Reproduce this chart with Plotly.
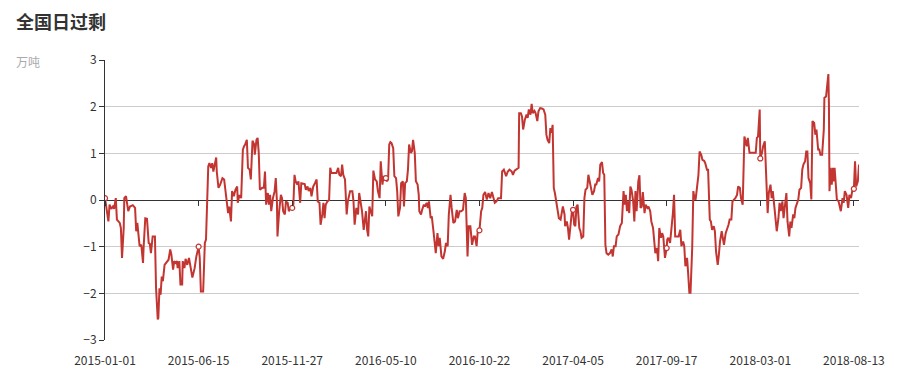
import pandas as pd
import plotly.graph_objects as go

start_date = "2015-01-01"
end_date = "2018-08-22"

# day offsets from 2015-01-01 (daily series, sampled at visible turning points)
days = [
    0, 6, 8, 11, 14, 16, 19, 21, 26, 28, 30, 33, 34, 37, 41, 44, 49, 53, 55, 57,
    59, 61, 64, 67, 68, 71, 74, 77, 79, 81, 84, 88, 90, 93, 94, 96, 98, 100, 102, 105,
    108, 110, 112, 115, 117, 120, 122, 125, 127, 128, 131, 133, 136, 137, 140, 142, 145, 148, 151, 154,
    158, 161, 165, 167, 169, 173, 176, 178, 182, 184, 187, 189, 191, 193, 196, 197, 200, 203, 207, 210,
    213, 215, 217, 219, 222, 224, 227, 230, 233, 234, 237, 240, 243, 245, 247, 250, 252, 255, 257, 260,
    263, 264, 267, 269, 271, 273, 277, 280, 282, 284, 287, 289, 291, 293, 296, 299, 301, 303, 304, 307,
    310, 312, 314, 317, 319, 322, 324, 327, 330, 332, 334, 336, 339, 341, 344, 346, 350, 352, 354, 357,
    359, 362, 364, 367, 370, 373, 375, 378, 380, 383, 385, 387, 389, 392, 395, 397, 399, 402, 408, 411,
    413, 416, 418, 420, 423, 426, 428, 432, 436, 438, 440, 443, 446, 448, 450, 453, 456, 458, 460, 462,
    464, 466, 469, 471, 473, 476, 479, 481, 484, 486, 489, 491, 495, 497, 499, 501, 503, 505, 508, 510,
    513, 515, 517, 520, 522, 525, 527, 529, 532, 534, 536, 539, 541, 543, 546, 548, 551, 553, 554, 557,
    559, 562, 564, 567, 569, 571, 574, 576, 579, 581, 583, 586, 588, 590, 593, 596, 599, 601, 604, 606,
    609, 611, 614, 617, 620, 622, 625, 628, 631, 634, 636, 639, 641, 644, 647, 650, 652, 655, 657, 660,
    663, 665, 667, 670, 673, 676, 679, 682, 685, 687, 690, 693, 696, 698, 700, 703, 705, 707, 710, 713,
    717, 719, 722, 725, 729, 730, 733, 735, 737, 740, 743, 745, 747, 750, 752, 754, 757, 759, 762, 764,
    767, 770, 773, 776, 778, 780, 783, 785, 787, 789, 791, 793, 796, 798, 800, 803, 805, 807, 810, 811,
    814, 816, 818, 820, 823, 825, 827, 829, 831, 833, 836, 838, 840, 843, 845, 847, 850, 852, 854, 857,
    859, 862, 864, 866, 869, 871, 873, 876, 878, 880, 882, 884, 887, 890, 893, 895, 897, 900, 902, 905,
    908, 911, 914, 916, 918, 920, 922, 924, 926, 928, 931, 933, 935, 937, 940, 942, 944, 946, 948, 951,
    953, 956, 958, 961, 963, 966, 968, 970, 973, 975, 977, 980, 982, 984, 987, 990, 991, 993, 996, 999,
    1001, 1003, 1005, 1008, 1011, 1014, 1016, 1019, 1021, 1023, 1026, 1028, 1030, 1032, 1035, 1037, 1039, 1041, 1044, 1046,
    1048, 1051, 1053, 1056, 1058, 1061, 1063, 1066, 1068, 1070, 1073, 1075, 1077, 1080, 1082, 1084, 1087, 1089, 1091, 1094,
    1096, 1099, 1101, 1104, 1106, 1109, 1111, 1114, 1116, 1119, 1121, 1124, 1127, 1129, 1131, 1133, 1136, 1140, 1145, 1147,
    1149, 1151, 1154, 1155, 1158, 1160, 1163, 1165, 1166, 1168, 1170, 1173, 1175, 1177, 1180, 1182, 1184, 1187, 1189, 1191,
    1194, 1196, 1198, 1201, 1203, 1206, 1208, 1210, 1213, 1215, 1217, 1220, 1222, 1224, 1227, 1229, 1231, 1234, 1236, 1238,
    1240, 1243, 1245, 1247, 1250, 1252, 1254, 1257, 1259, 1261, 1264, 1267, 1268, 1271, 1273, 1275, 1276, 1277, 1279, 1281,
    1283, 1284, 1286, 1288, 1290, 1293, 1295, 1297, 1300, 1302, 1304, 1307, 1310, 1312, 1315, 1317, 1320, 1322, 1324, 1327,
    1329,
]

# 全国日过剩 (万吨)
values = [
    0.04, -0.46, -0.10, -0.19, -0.14, -0.19, 0.04, -0.42, -0.49, -0.60, -1.24, -0.60, 0.04, 0.08, -0.24, -0.14, -0.11, -0.17, -0.67, -0.49,
    -0.74, -0.99, -0.96, -1.35, -1.03, -0.39, -0.40, -0.92, -0.94, -1.14, -0.78, -0.78, -1.89, -2.56, -2.53, -1.89, -2.03, -1.64, -1.74, -1.39,
    -1.35, -1.31, -1.28, -1.06, -1.17, -1.49, -1.31, -1.35, -1.31, -1.46, -1.31, -1.81, -1.81, -1.31, -1.46, -1.26, -1.39, -1.24, -1.50, -1.66,
    -1.46, -1.21, -1.00, -1.24, -1.96, -1.96, -0.92, -0.85, 0.72, 0.79, 0.69, 0.79, 0.61, 0.77, 0.91, 0.61, 0.26, 0.33, 0.47, 0.44,
    0.11, -0.17, -0.28, -0.14, -0.46, 0.19, 0.08, 0.22, 0.29, -0.06, 0.11, 0.04, 1.08, 1.15, 1.19, 1.29, 0.69, 0.65, 0.44, 1.27,
    1.19, 0.97, 1.29, 1.33, 1.01, 0.22, 0.26, 0.26, 0.61, -0.10, 0.15, -0.10, 0.11, -0.24, 0.04, 0.19, 0.47, -0.03, -0.78, -0.24,
    0.11, 0.04, -0.24, -0.31, -0.03, -0.06, -0.24, -0.17, -0.17, -0.10, 0.54, 0.40, 0.33, 0.40, -0.06, 0.36, 0.34, 0.34, 0.22, 0.29,
    0.19, 0.26, 0.08, 0.29, 0.36, 0.44, -0.03, -0.06, -0.53, -0.31, -0.06, -0.39, -0.10, -0.03, 0.00, 0.69, 0.58, 0.58, 0.58, 0.69,
    0.54, 0.51, 0.76, 0.54, 0.44, -0.31, -0.03, 0.19, 0.19, -0.03, -0.53, -0.17, -0.31, 0.15, -0.03, -0.24, -0.64, -0.46, -0.24, -0.64,
    -0.78, -0.14, -0.31, -0.35, 0.63, 0.44, 0.40, 0.19, 0.04, 0.83, 0.33, 0.51, 0.47, 0.40, 0.44, 1.19, 1.24, 1.22, 1.11, 0.51,
    0.47, 0.19, -0.35, -0.17, 0.36, 0.40, -0.14, 0.36, 0.40, 0.65, 1.19, 1.01, 1.04, 1.29, 1.01, 0.40, 0.33, 0.11, -0.24, -0.31,
    -0.21, -0.10, -0.14, -0.06, -0.17, -0.03, -0.39, -0.35, -0.67, -0.96, -1.14, -0.71, -0.99, -0.81, -1.21, -1.26, -1.10, -0.92, -0.99, -0.31,
    0.11, -0.17, -0.49, -0.46, -0.21, -0.39, -0.24, -0.24, -0.21, 0.15, 0.04, -1.21, -0.56, -0.56, -0.96, -0.78, -0.78, -0.99, -0.67, -0.65,
    -0.24, -0.17, 0.11, 0.17, 0.01, 0.15, 0.04, 0.17, 0.04, -0.06, -0.03, 0.04, 0.04, 0.04, 0.61, 0.65, 0.58, 0.51, 0.61, 0.65,
    0.61, 0.54, 0.63, 0.65, 0.69, 1.86, 1.86, 1.79, 1.51, 1.72, 1.83, 1.76, 1.94, 1.83, 2.06, 1.86, 1.91, 1.86, 1.69, 1.90,
    1.97, 1.96, 1.94, 1.83, 1.40, 1.29, 1.22, 1.54, 1.44, 1.61, 0.26, 0.15, -0.10, -0.31, -0.39, -0.42, -0.31, -0.14, -0.31, -0.56,
    -0.46, -0.60, -0.85, -0.53, -0.24, -0.21, -0.53, -0.56, -0.14, -0.10, -0.60, -0.67, -0.81, -0.78, 0.04, 0.22, 0.26, 0.54, 0.40, 0.19,
    0.11, 0.19, 0.33, 0.33, 0.47, 0.40, 0.76, 0.81, 0.58, 0.54, -0.96, -1.14, -1.17, -1.14, -1.06, -1.21, -0.99, -0.99, -0.78, -0.74,
    -0.56, -0.49, 0.19, -0.10, 0.11, -0.24, -0.03, -0.28, 0.29, 0.22, -0.03, -0.46, 0.19, -0.24, 0.40, 0.53, -0.17, -0.14, 0.17, -0.28,
    -0.10, -0.17, -0.14, -0.24, -0.46, -0.60, -0.85, -1.14, -1.03, -1.31, -0.60, -0.81, -0.71, -0.78, -1.24, -1.03, -0.85, -0.81, -0.92, -0.60,
    -0.28, 0.11, -0.78, -0.78, -0.78, -0.64, -0.99, -0.89, -0.99, -1.42, -1.24, -1.60, -1.99, -1.99, -1.03, 0.19, 0.04, 0.01, 0.44, 0.54,
    1.04, 0.97, 0.86, 0.84, 0.79, 0.65, 0.65, -0.42, -0.46, -0.64, -0.56, -0.67, -1.10, -1.39, -1.17, -0.89, -0.67, -0.85, -0.96, -0.71,
    -0.65, -0.53, -0.42, -0.42, -0.03, 0.01, 0.04, 0.11, 0.29, 0.26, 0.04, -0.10, 1.36, 1.26, 1.15, 1.33, 1.01, 1.01, 1.01, 1.01,
    1.33, 1.36, 1.94, 0.89, 1.01, 1.15, 1.26, 0.76, 0.26, -0.28, 0.15, 0.33, 0.04, 0.19, -0.17, -0.39, -0.67, -0.39, -0.06, -0.24,
    -0.03, -0.39, -0.14, 0.15, -0.46, -0.78, -0.46, -0.60, -0.31, -0.39, -0.17, -0.03, 0.01, 0.22, 0.26, 0.65, 0.76, 0.83, 1.04, 1.04,
    0.47, 0.36, 0.01, 1.69, 1.65, 1.40, 1.51, 1.08, 1.08, 0.97, 0.97, 1.51, 2.19, 2.22, 2.54, 2.70, 2.04, 0.19, 0.69, 0.33,
    0.69, 0.40, 0.69, 0.26, 0.01, -0.03, -0.17, -0.24, 0.04, -0.06, 0.19, 0.11, -0.17, 0.11, 0.04, 0.19, 0.24, 0.83, 0.29, 0.40,
    0.76,
]

x_tick_labels = ["2015-01-01", "2015-06-15", "2015-11-27", "2016-05-10", "2016-10-22",
                 "2017-04-05", "2017-09-17", "2018-03-01", "2018-08-13"]
y_tick_values = [-3, -2, -1, 0, 1, 2, 3]

title_text = "全国日过剩"
unit_text = "万吨"

start = pd.Timestamp(start_date)
dates = start + pd.to_timedelta(days, unit="D")

tick_days = [(pd.Timestamp(t) - start).days for t in x_tick_labels]
sym_dates = [pd.Timestamp(t) for t in x_tick_labels]
sym_values = [values[days.index(d)] for d in tick_days]

RED = "#c23531"
FONT = "Noto Sans CJK SC, Microsoft YaHei, sans-serif"

# page body has an 8px margin, so the figure is sized to fit the window exactly
W, H = 894, 373
ML, MR, MT, MB = 97, 43, 52, 41

fig = go.Figure()
fig.add_trace(go.Scatter(
    x=dates, y=values, mode="lines",
    line=dict(color=RED, width=2),
    showlegend=False, hoverinfo="x+y",
))
fig.add_trace(go.Scatter(
    x=sym_dates, y=sym_values, mode="markers", xaxis="x2",
    marker=dict(symbol="circle", size=5, color="white", line=dict(color=RED, width=1.2)),
    showlegend=False, hoverinfo="skip",
))

fig.update_layout(
    width=W, height=H,
    margin=dict(l=ML, r=MR, t=MT, b=MB),
    paper_bgcolor="white", plot_bgcolor="white",
    font=dict(family=FONT, size=12, color="#333"),
    title=dict(
        text="<b>" + title_text + "</b>",
        x=8 / W, xref="container", xanchor="left",
        y=1 - 14.5 / H, yref="container", yanchor="middle",
        font=dict(family=FONT, size=18, color="#333"),
    ),
    xaxis=dict(
        type="date", range=[start_date, end_date],
        tickvals=x_tick_labels, ticktext=x_tick_labels,
        showgrid=False, showline=False, zeroline=False,
        ticks="outside", ticklen=10, tickcolor="rgba(0,0,0,0)",
        tickfont=dict(size=12, color="#333"),
    ),
    xaxis2=dict(
        type="date", overlaying="x", matches="x", anchor="free", position=0.5,
        side="bottom", range=[start_date, end_date],
        tickvals=x_tick_labels, showticklabels=False,
        ticks="outside", ticklen=5, tickcolor="#333", tickwidth=1,
        showgrid=False, showline=False, zeroline=False,
    ),
    yaxis=dict(
        range=[-3, 3], tickvals=y_tick_values,
        showline=True, linecolor="#333", linewidth=1,
        ticks="outside", ticklen=5, tickcolor="#333",
        showgrid=True, gridcolor="#ccc", gridwidth=1,
        zeroline=True, zerolinecolor="#333", zerolinewidth=1,
        tickfont=dict(size=12, color="#333"),
    ),
    annotations=[dict(
        text=unit_text, xref="paper", yref="paper",
        x=(6 - ML) / (W - ML - MR), y=1 - 2 / (H - MT - MB), xanchor="left", yanchor="middle",
        showarrow=False, font=dict(family=FONT, size=12, color="#aaa"),
    )],
)

fig.write_html("out.html")
